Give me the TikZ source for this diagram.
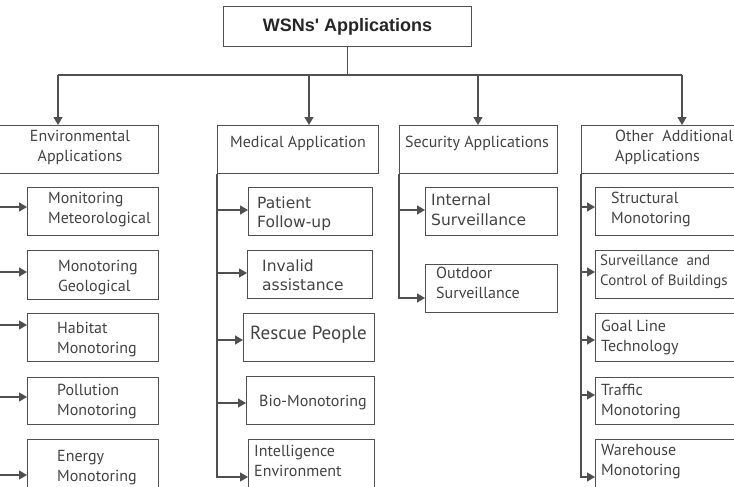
\documentclass[tikz,border=0pt]{standalone}
\usepackage{fontspec}
\usetikzlibrary{arrows.meta,calc}
\newfontfamily\myr{PT Sans}
\newfontfamily\dvs{DejaVu Sans}
\newfontfamily\ars{Liberation Sans}
\definecolor{ln}{HTML}{505050}
\definecolor{tx}{HTML}{444444}
\begin{document}
\begin{tikzpicture}[x=1pt,y=-1pt,
 line/.style={draw=ln,line width=1.2pt},
 arr/.style={line,-{Triangle[length=8pt,width=9pt]}},
 box/.style={draw=ln,line width=1.2pt,inner sep=0,anchor=north west},
 lbl/.style={anchor=west,align=left,inner sep=0,text=tx,font=\myr\fontsize{16}{20}\selectfont},
 lbld/.style={lbl,font=\dvs\fontsize{15.5}{19.5}\selectfont},
 lblc/.style={lbl,anchor=center,align=center},
]
\useasboundingbox (0,0) rectangle (734,487);
\fill[white] (0,0) rectangle (734,487);
% top
\node[box,minimum width=248,minimum height=40,font=\ars\bfseries\fontsize{18}{22}\selectfont,text=black!85] (top) at (223,6) {WSNs' Applications};
% category boxes
\node[box,minimum width=160,minimum height=48] (env) at (-2,125) {};
\node[box,minimum width=161,minimum height=48] (med) at (217,125) {};
\node[box,minimum width=158,minimum height=48] (sec) at (399,125) {};
\node[box,minimum width=165,minimum height=48] (oth) at (581,125) {};
% environmental children
\node[box,minimum width=131,minimum height=48] (em1) at (27,187) {};
\node[box,minimum width=131,minimum height=49] (em2) at (27,250) {};
\node[box,minimum width=131,minimum height=48] (em3) at (27,313) {};
\node[box,minimum width=131,minimum height=47] (em4) at (27,377) {};
\node[box,minimum width=131,minimum height=55] (em5) at (27,439) {};
% medical children
\node[box,minimum width=124,minimum height=48] (m1) at (248,187) {};
\node[box,minimum width=125,minimum height=48] (m2) at (247,250) {};
\node[box,minimum width=131,minimum height=48] (m3) at (243,313) {};
\node[box,minimum width=128,minimum height=48] (m4) at (246,376) {};
\node[box,minimum width=126,minimum height=55] (m5) at (248,439) {};
% security children
\node[box,minimum width=132,minimum height=48] (s1) at (425,187) {};
\node[box,minimum width=132,minimum height=48] (s2) at (425,264) {};
% other children
\node[box,minimum width=150,minimum height=48] (o1) at (595,187) {};
\node[box,minimum width=150,minimum height=48] (o2) at (595,250) {};
\node[box,minimum width=150,minimum height=48] (o3) at (595,313) {};
\node[box,minimum width=150,minimum height=47] (o4) at (595,377) {};
\node[box,minimum width=150,minimum height=55] (o5) at (595,439) {};
% labels
\node[lblc] (envt) at (80,147) {Environmental\\Applications};
\node[lblc] (medt) at (298,143) {Medical Application};
\node[lblc] (sect) at (477,143) {Security Applications};
\node[lbl] (otht) at (615,147) {Other~ Additional\\Applications};
\node[lbl] (em1t) at (48,210) {Monitoring\\Meteorological};
\node[lbl] (em2t) at (58,277.5) {Monotoring\\Geological};
\node[lbl] (em3t) at (57,339.5) {Habitat\\Monotoring};
\node[lbl] (em4t) at (57,401.5) {Pollution\\Monotoring};
\node[lbl] (em5t) at (57,468) {Energy\\Monotoring};
\node[lbld] (m1t) at (257,213.5) {Patient\\Follow-up};
\node[lbld] (m2t) at (262,275) {Invalid\\assistance};
\node[lbl,font=\myr\fontsize{19}{23}\selectfont] (m3t) at (250,335) {Rescue People};
\node[lbl] (m4t) at (259,403) {Bio-Monotoring};
\node[lbl] (m5t) at (254,461) {Intelligence\\Environment};
\node[lbld] (s1t) at (431,209.5) {Internal\\Surveillance};
\node[lbl] (s2t) at (436,283) {Outdoor\\Surveillance};
\node[lbl] (o1t) at (611,209) {Structural\\Monotoring};
\node[lbl,font=\myr\fontsize{15}{20}\selectfont] (o2t) at (600,272) {Surveillance~ and\\Control of Buildings};
\node[lbl] (o3t) at (601,337.5) {Goal Line\\Technology};
\node[lbl] (o4t) at (601,401.5) {Traffic\\Monotoring};
\node[lbl] (o5t) at (601,461.5) {Warehouse\\Monotoring};
% top connectors
\coordinate (d1) at (58,75);
\coordinate (d2) at (309,75);
\coordinate (d3) at (478,75);
\coordinate (d4) at (682,75);
\draw[line] (top.south) -- (top.south |- d1);
\draw[line] (d1) -- (d4);
\draw[arr] (d1) -- (d1 |- env.north);
\draw[arr] (d2) -- (d2 |- med.north);
\draw[arr] (d3) -- (d3 |- sec.north);
\draw[arr] (d4) -- (d4 |- oth.north);
% environmental arrows
\draw[arr] (env.south west |- 0,207) -- (em1.west |- 0,207);
\draw[arr] (env.south west |- 0,272) -- (em2.west |- 0,272);
\draw[arr] (env.south west |- 0,325) -- (em3.west |- 0,325);
\draw[arr] (env.south west |- 0,397) -- (em4.west |- 0,397);
\draw[arr] (env.south west) |- (em5.west |- 0,475);
% medical arrows
\draw[arr] (med.south west |- 0,210) -- (m1.west |- 0,210);
\draw[arr] (med.south west |- 0,273) -- (m2.west |- 0,273);
\draw[arr] (med.south west |- 0,340) -- (m3.west |- 0,340);
\draw[arr] (med.south west |- 0,403) -- (m4.west |- 0,403);
\draw[arr] (med.south west) |- (m5.west |- 0,477);
% security arrows
\draw[arr] (sec.south west |- 0,210) -- (s1.west |- 0,210);
\draw[arr] (sec.south west) |- (s2.west |- 0,298);
% other arrows
\draw[arr] (oth.south west |- 0,207) -- (o1.west |- 0,207);
\draw[arr] (oth.south west |- 0,272) -- (o2.west |- 0,272);
\draw[arr] (oth.south west |- 0,340) -- (o3.west |- 0,340);
\draw[arr] (oth.south west |- 0,395) -- (o4.west |- 0,395);
\draw[arr] (oth.south west) |- (o5.west |- 0,477);
\end{tikzpicture}
\end{document}
